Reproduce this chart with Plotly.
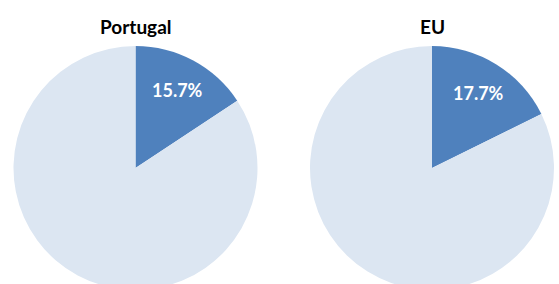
import math
import plotly.graph_objects as go

regions = ["Portugal", "EU"]
share = [15.7, 17.7]
slice_labels = ["Share", "Rest"]

W, H = 559, 300
dark = "#4F81BD"
light = "#DCE6F2"

# pixel domains (left, right) for each pie; vertical span 46..290 from top
xdoms = [(13.5, 257.5), (310, 554)]
ytop, ybot = 46, 290
label_r = 0.725  # label distance from centre, as a fraction of radius

fig = go.Figure()
for name, s, (x0, x1) in zip(regions, share, xdoms):
    vals = [s, round(100 - s, 1)]
    fig.add_trace(go.Pie(
        labels=slice_labels, values=vals,
        textinfo="none",
        marker=dict(colors=[dark, light], line=dict(width=0)),
        sort=False, direction="clockwise", rotation=0,
        domain=dict(x=[x0 / W, x1 / W], y=[(H - ybot) / H, (H - ytop) / H]),
        hoverinfo="label+value", showlegend=False, name=name,
    ))
    cx = (x0 + x1) / 2
    cy = (ytop + ybot) / 2
    r = (ybot - ytop) / 2
    ang = math.radians(s / 100 * 360 / 2)
    lx = cx + label_r * r * math.sin(ang)
    ly = cy - label_r * r * math.cos(ang)
    fig.add_annotation(
        text=f"<b>{s}%</b>", x=lx / W, y=(H - ly) / H,
        xref="paper", yref="paper", showarrow=False,
        font=dict(family="Lato", size=18, color="white"),
        xanchor="center", yanchor="middle",
    )
    fig.add_annotation(
        text=f"<b>{name}</b>", x=cx / W, y=(H - 26) / H,
        xref="paper", yref="paper", showarrow=False,
        font=dict(family="Lato", size=19, color="black"),
        xanchor="center", yanchor="middle",
    )

fig.update_layout(
    width=W, height=H,
    margin=dict(l=0, r=0, t=0, b=0),
    paper_bgcolor="white", plot_bgcolor="white",
)
fig.write_html(
    "out.html",
    config={"displayModeBar": False},
    post_script="document.body.style.margin='0';document.body.style.overflow='hidden';document.documentElement.style.overflow='hidden';",
)
